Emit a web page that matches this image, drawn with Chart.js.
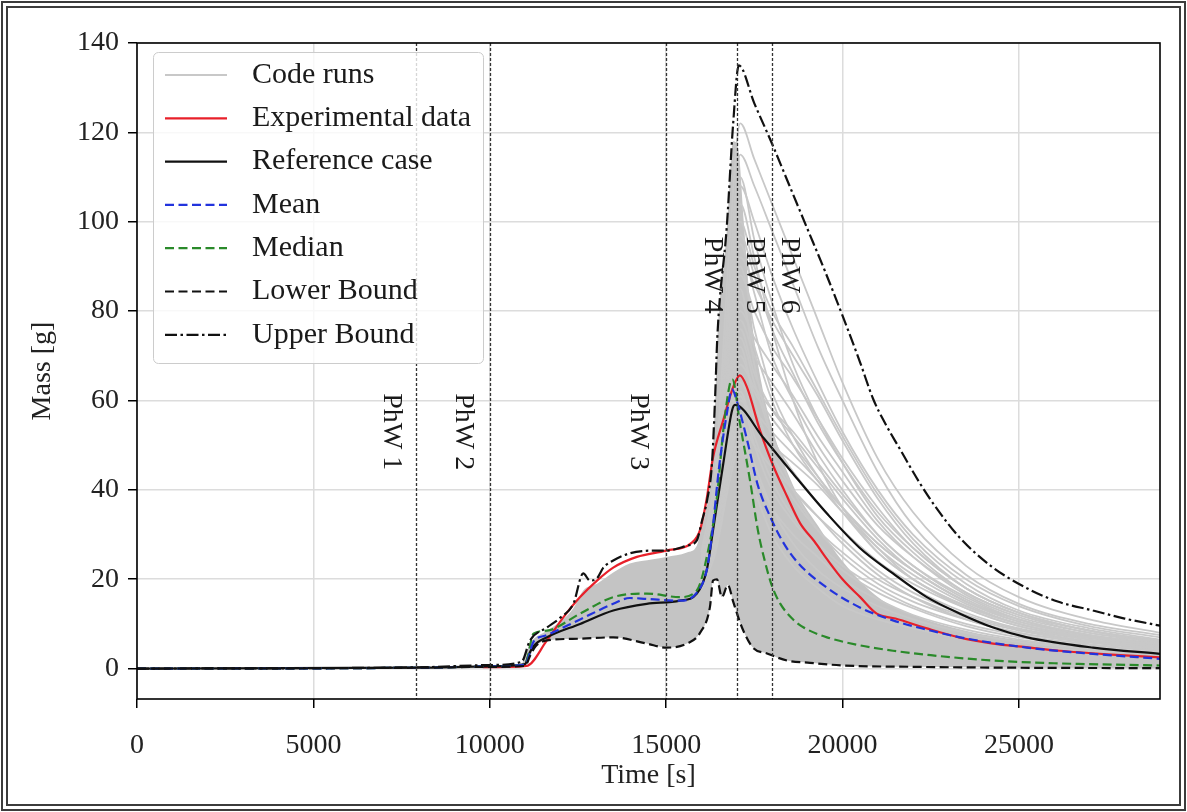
<!DOCTYPE html>
<html lang="en">
<head>
<meta charset="UTF-8">
<title>Mass over time</title>
<script src="https://cdn.jsdelivr.net/npm/chart.js"></script>
<style>
    body { margin: 0; background: #fff; }
    canvas { display: block; }
</style>
</head>
<body>
<canvas id="myChart" width="1187" height="812"></canvas>
<script>
// ---- data (time in s, mass in g) ----
const upperTime = [0, 8000, 10000, 10900, 11140, 11620, 12000, 12370, 12650, 12840, 13040, 13220, 13500, 13970, 14630, 15000, 15590, 15870, 16020, 16160, 16300, 16390, 16450, 16720, 16900, 17060, 17500, 18000, 18500, 19000, 19500, 20000, 20500, 20860, 21200, 21600, 22200, 22700, 23300, 24200, 25200, 26100, 27100, 28000, 29000];
const upperMass = [0, 0.3, 0.8, 1.5, 6.3, 9.2, 11.4, 14.5, 21.3, 19.7, 20.2, 22.6, 24.2, 25.8, 26.4, 26.4, 27.5, 28.7, 33.2, 37.6, 46, 61, 74, 99, 122, 135, 126.5, 117.5, 108, 98.5, 89, 79, 68.5, 60.5, 55, 49.5, 41.4, 35.5, 29.5, 23, 18.1, 15, 13, 11.2, 9.6];

const lowerTime = [0, 8000, 10000, 11000, 11150, 11300, 11620, 12560, 13500, 14450, 15000, 15590, 15960, 16240, 16330, 16440, 16580, 16750, 16900, 17150, 17460, 17860, 18430, 19080, 20000, 22000, 25000, 29000];
const lowerMass = [0, 0.2, 0.4, 0.6, 3, 5, 6.3, 6.7, 7, 5.6, 4.7, 5.6, 8, 13.7, 19.7, 20, 16, 18.7, 15, 9.2, 4.7, 3.4, 1.8, 1.3, 0.7, 0.4, 0.2, 0.1];

const meanTime = [0, 8000, 10000, 11000, 11240, 11620, 12560, 13500, 13970, 14450, 15390, 15870, 16150, 16300, 16500, 16720, 16870, 17000, 17300, 17600, 17950, 18300, 18700, 19560, 20490, 21430, 22400, 23330, 25230, 27100, 29000];
const meanMass = [0, 0.2, 0.5, 0.9, 6, 7.5, 11, 14.5, 15.8, 15.6, 15.2, 17, 22, 30, 45, 57, 62.5, 60, 51, 41, 34, 28.5, 24, 18.1, 13.7, 10.8, 8.7, 7, 4.7, 3.3, 2.2];

const medianTime = [0, 8000, 10000, 11000, 11240, 11620, 12560, 13500, 14450, 15390, 15870, 16190, 16440, 16620, 16810, 16880, 17090, 17380, 17600, 17800, 18000, 18230, 18600, 18900, 19560, 20500, 21430, 22500, 24270, 26000, 29000];
const medianMass = [0, 0.2, 0.5, 0.9, 7.8, 8.5, 12.3, 16, 16.8, 16, 17.5, 26.4, 38.3, 53.3, 63.8, 64.7, 55, 42, 31, 24, 18.5, 14.6, 11, 9.2, 7, 5.2, 4, 3, 1.8, 1.2, 0.7];

const refTime = [0, 8000, 10000, 11000, 11100, 11240, 11620, 12560, 13500, 14450, 15390, 15870, 16150, 16330, 16620, 16870, 16950, 17750, 18600, 19560, 20490, 21430, 22390, 23330, 24270, 25230, 27100, 29000];
const refMass = [0, 0.2, 0.5, 1, 3, 5, 7, 10, 13, 14.5, 15.2, 16.8, 22, 31, 45.9, 57.8, 59, 51.7, 43.6, 34.7, 27, 21.3, 16, 12.3, 9.2, 7, 4.7, 3.3];

const expTime = [9800, 10500, 11050, 11620, 12080, 12560, 13040, 13500, 14170, 15000, 15730, 15960, 16150, 16330, 16620, 16900, 17090, 17290, 17660, 18030, 18430, 18800, 19200, 19560, 20000, 20500, 20970, 21500, 22390, 23300, 24270, 25200, 26150, 27500, 29000];
const expMass = [0.3, 0.4, 0.6, 6.3, 11.4, 16, 19.7, 22.6, 25, 26.4, 28.2, 31, 38, 47.3, 55.6, 63, 65.6, 63, 53.3, 45.5, 38.5, 32.5, 28.5, 24.5, 20, 16, 12.3, 11.2, 9, 7, 5.6, 4.8, 4, 3.2, 2.5];

// where the code runs lie on top of each other (shaded down to the lower bound)
const denseTime = [10900, 11140, 11620, 12000, 12370, 12650, 13040, 13500, 13970, 14630, 15000, 15590, 15870, 16020, 16160, 16300, 16390, 16450, 16720, 16900, 17050, 17200, 17400, 17700, 18000, 18600, 19300, 20000, 21000, 22000, 23500, 25000, 27000, 29000];
const denseMass = [0.6, 5.5, 8.5, 10.5, 13.5, 17.5, 19, 21.5, 23.5, 24.5, 25, 26, 27.5, 32, 36.5, 45, 60, 73, 98, 118, 116, 100, 80, 64, 54, 41, 32, 24, 16, 12, 8.5, 6.4, 4.8, 3.7];

// individual code runs that stand out after the peak
const runTime = [16000, 16400, 16800, 17100, 17500, 18000, 18600, 19300, 20000, 21000, 22000, 23500, 25000, 27000, 29000];
const runMass = [
    [26, 45, 95, 122, 114, 104, 92, 78, 64, 47, 35, 23, 16, 11, 8],
    [25, 42, 88, 115, 108, 98, 86, 72, 60, 44, 32, 21, 14.5, 10, 7.5],
    [24, 40, 84, 110, 96, 82, 68, 56, 46, 34, 26, 17, 12, 8.5, 6.2],
    [24, 40, 82, 108, 100, 88, 76, 64, 53, 40, 30, 20, 14, 9.5, 7],
    [24, 39, 80, 104, 92, 76, 60, 46, 36, 26, 20, 14, 10, 7, 5.5],
    [24, 38, 78, 100, 90, 80, 72, 62, 52, 39, 29, 19, 13, 9, 6.5],
    [23, 37, 76, 97, 88, 76, 66, 55, 46, 35, 27, 18, 12.5, 8.5, 6],
    [23, 36, 74, 95, 84, 70, 60, 50, 42, 32, 25, 17, 12, 8, 6],
    [23, 36, 72, 92, 86, 78, 70, 61, 51, 38, 28, 18, 12.5, 8.5, 6.2],
    [22, 35, 70, 90, 76, 62, 52, 43, 36, 28, 22, 15, 11, 7.5, 5.5],
    [23, 35, 70, 88, 80, 72, 65, 56, 47, 36, 27, 18, 12.5, 8.5, 6],
    [22, 34, 68, 85, 68, 52, 40, 31, 25, 19, 15, 11, 8, 6, 4.5],
    [22, 34, 66, 82, 72, 60, 50, 42, 36, 28, 22, 15, 10.5, 7.5, 5.5],
    [22, 34, 64, 80, 74, 68, 61, 52, 44, 33, 25, 16.5, 11.5, 8, 5.8],
    [22, 33, 62, 78, 70, 64, 57, 48, 40, 30, 23, 16, 11, 7.5, 5.5],
    [21, 32, 61, 76, 66, 58, 52, 45, 38, 29, 22, 15, 10.5, 7.3, 5.3],
    [21, 32, 60, 74, 64, 52, 44, 37, 31, 24, 19, 13.5, 9.5, 6.5, 5],
    [21, 31, 57, 72, 60, 48, 40, 34, 29, 22, 17, 12, 8.8, 6.2, 4.6],
    [21, 31, 58, 70, 62, 56, 50, 43, 36, 27, 20, 14, 10, 7, 5],
    [21, 31, 56, 68, 63, 58, 53, 46, 39, 30, 23, 15.5, 11, 7.5, 5.5],
    [21, 30, 55, 66, 56, 46, 38, 31, 26, 20, 16, 11.5, 8.5, 6, 4.5],
    [20, 30, 53, 64, 58, 53, 48, 42, 35, 26, 20, 13.5, 9.5, 6.8, 4.8],
    [20, 30, 52, 62, 52, 42, 34, 28, 23, 18, 14, 10, 7.5, 5.5, 4],
    [20, 29, 51, 61, 50, 40, 33, 27, 22, 17, 13.5, 9.5, 7, 5.2, 3.9],
    [20, 29, 50, 60, 56, 50, 44, 37, 31, 24, 18, 12.5, 9, 6.5, 4.5],
    [20, 29, 48, 58, 54, 50, 46, 41, 35, 27, 21, 14.5, 10, 7, 5],
    [19, 28, 47, 56, 46, 36, 28, 22, 18, 14, 11, 8, 6, 4.5, 3.5],
    [19, 28, 46, 55, 50, 45, 40, 34, 28, 21, 16, 11, 8, 5.8, 4.2],
    [19, 27, 44, 52, 44, 36, 30, 25, 20, 15.5, 12, 8.7, 6.5, 4.8, 3.6],
    [18, 26, 42, 50, 40, 30, 23, 18, 14, 11, 9, 6.5, 5, 4, 3]
];

// axis ticks
const timeTicks = [0, 5000, 10000, 15000, 20000, 25000];
const massTicks = [0, 20, 40, 60, 80, 100, 120, 140];

// phase windows
const phaseLines = [7900, 10000, 15000, 17000, 18000];
const phaseNames = ['PhW 1', 'PhW 2', 'PhW 3', 'PhW 4', 'PhW 5', 'PhW 6'];
const phaseLabelTime = [7200, 9250, 14200, 16300, 17500, 18500];
const phaseLabelMass = [53, 53, 53, 88, 88, 88];

const legendLabels = ['Code runs', 'Experimental data', 'Reference case', 'Mean', 'Median', 'Lower Bound', 'Upper Bound'];

// ---- chart ----
const serif = 'Liberation Serif';
Chart.defaults.font.family = serif;

function toPoints(times, masses) {
    return times.map((t, i) => ({ x: t, y: masses[i] }));
}

function lineSet(label, times, masses, color, width, dash, order) {
    return {
        label: label,
        data: toPoints(times, masses),
        borderColor: color,
        borderWidth: width,
        borderDash: dash,
        pointRadius: 0,
        fill: false,
        cubicInterpolationMode: 'monotone',
        order: order
    };
}

const datasets = [
    lineSet('Upper Bound', upperTime, upperMass, '#111', 2.2, [12, 3.5, 2.5, 3.5], 1),
    lineSet('Lower Bound', lowerTime, lowerMass, '#111', 2.2, [9, 4.5], 2),
    lineSet('Mean', meanTime, meanMass, '#2233dd', 2.2, [9, 4.5], 3),
    lineSet('Median', medianTime, medianMass, '#2a8a2a', 2.2, [9, 4.5], 4),
    lineSet('Reference case', refTime, refMass, '#111', 2.2, [], 5),
    lineSet('Experimental data', expTime, expMass, '#e8202a', 2.2, [], 6),
    {
        label: 'dense runs',
        data: toPoints(denseTime, denseMass),
        borderWidth: 0,
        pointRadius: 0,
        backgroundColor: '#c4c4c4',
        fill: 1,
        cubicInterpolationMode: 'monotone',
        order: 30
    }
];
runMass.forEach((m) => {
    datasets.push(lineSet('Code runs', runTime, m, '#c8c8c8', 1.8, [], 20));
});

const decor = {
    id: 'decor',
    beforeDraw(chart) {
        const ctx = chart.ctx;
        ctx.save();
        ctx.fillStyle = '#fff';
        ctx.fillRect(0, 0, chart.width, chart.height);
        ctx.strokeStyle = '#3c3c3c';
        ctx.lineWidth = 2;
        ctx.strokeRect(2, 2, chart.width - 4, chart.height - 4);
        ctx.strokeRect(7, 7, chart.width - 14, chart.height - 14);
        ctx.restore();
    },
    afterDatasetsDraw(chart) {
        const { ctx, chartArea: a, scales: { x, y } } = chart;
        ctx.save();

        // phase window boundaries
        ctx.strokeStyle = '#333';
        ctx.lineWidth = 1.3;
        ctx.setLineDash([3, 2]);
        phaseLines.forEach((t) => {
            const px = Math.round(x.getPixelForValue(t)) + 0.5;
            ctx.beginPath();
            ctx.moveTo(px, a.top);
            ctx.lineTo(px, a.bottom);
            ctx.stroke();
        });
        ctx.setLineDash([]);

        ctx.font = '28px "' + serif + '"';
        ctx.fillStyle = '#1a1a1a';
        ctx.textAlign = 'center';
        ctx.textBaseline = 'middle';
        phaseNames.forEach((name, i) => {
            ctx.save();
            ctx.translate(x.getPixelForValue(phaseLabelTime[i]), y.getPixelForValue(phaseLabelMass[i]));
            ctx.rotate(Math.PI / 2);
            ctx.fillText(name, 0, 0);
            ctx.restore();
        });

        // axes frame
        ctx.strokeStyle = '#000';
        ctx.lineWidth = 1.6;
        ctx.strokeRect(a.left, a.top, a.right - a.left, a.bottom - a.top);

        // legend
        const lx = a.left + 16, ly = a.top + 9;
        ctx.beginPath();
        ctx.roundRect(lx + 0.5, ly + 0.5, 330, 311, 5);
        ctx.fillStyle = 'rgba(255,255,255,0.8)';
        ctx.fill();
        ctx.strokeStyle = '#cccccc';
        ctx.lineWidth = 1;
        ctx.stroke();

        ctx.font = '30px "' + serif + '"';
        ctx.textAlign = 'left';
        legendLabels.forEach((label, i) => {
            const ds = chart.data.datasets.find((d) => d.label === label);
            const cy = ly + 23 + i * 43.3;
            ctx.strokeStyle = ds.borderColor;
            ctx.lineWidth = ds.borderWidth;
            ctx.setLineDash(ds.borderDash || []);
            ctx.beginPath();
            ctx.moveTo(lx + 12, cy);
            ctx.lineTo(lx + 74, cy);
            ctx.stroke();
            ctx.setLineDash([]);
            ctx.fillStyle = '#1a1a1a';
            ctx.fillText(label, lx + 99, cy);
        });

        ctx.restore();
    }
};

const tickFont = { family: serif, size: 28 };

new Chart(document.getElementById('myChart'), {
    type: 'line',
    data: { datasets: datasets },
    options: {
        responsive: false,
        animation: false,
        events: [],
        layout: { padding: { left: 0, right: 27, top: 43, bottom: 0 } },
        scales: {
            x: {
                type: 'linear',
                min: 0,
                max: 29000,
                afterBuildTicks(scale) { scale.ticks = timeTicks.map((v) => ({ value: v })); },
                afterFit(scale) { scale.height = 113; },
                border: { display: false },
                grid: { color: '#dcdcdc', lineWidth: 1.5, tickLength: 9, tickColor: '#000', tickWidth: 1.5 },
                ticks: { padding: 21, color: '#222', font: tickFont, maxRotation: 0, autoSkip: false, callback: (v) => String(v) },
                title: { display: true, text: 'Time [s]', color: '#222', font: tickFont, padding: { top: 0, bottom: 20 } }
            },
            y: {
                type: 'linear',
                min: -6.8,
                max: 140,
                afterBuildTicks(scale) { scale.ticks = massTicks.map((v) => ({ value: v })); },
                afterFit(scale) { scale.width = 137; },
                border: { display: false },
                grid: { color: '#dcdcdc', lineWidth: 1.5, tickLength: 9, tickColor: '#000', tickWidth: 1.5 },
                ticks: { padding: 9, color: '#222', font: tickFont, autoSkip: false, callback: (v) => String(v) },
                title: { display: true, text: 'Mass [g]', color: '#222', font: tickFont, padding: { top: 26, bottom: 0 } }
            }
        },
        plugins: {
            legend: { display: false },
            tooltip: { enabled: false }
        }
    },
    plugins: [decor]
});
</script>
</body>
</html>
